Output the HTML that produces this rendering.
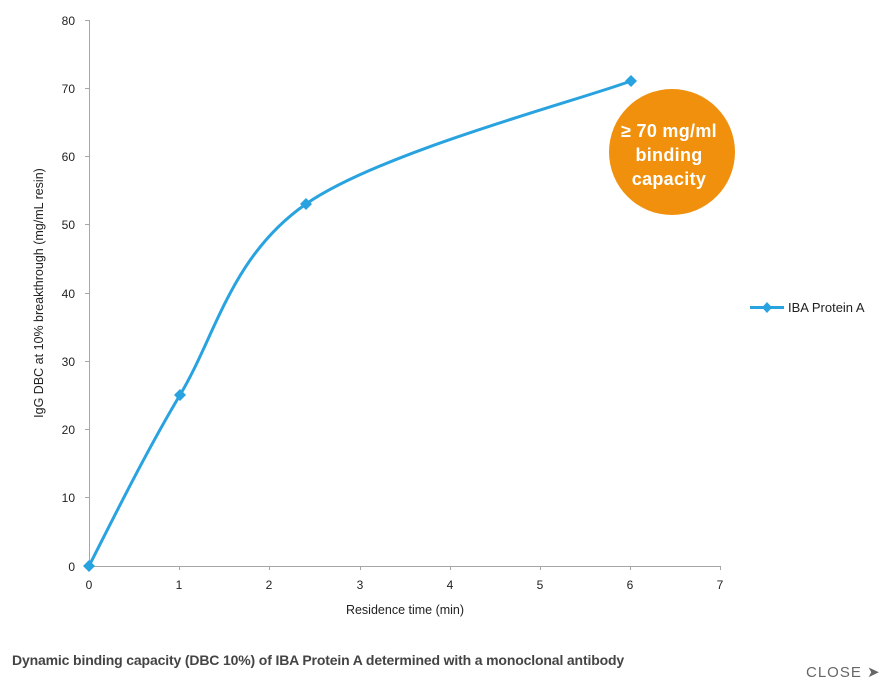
<!DOCTYPE html>
<html><head><meta charset="utf-8"><style>
body{margin:0;background:#fff;width:894px;height:671px;overflow:hidden;position:relative;font-family:"Liberation Sans",sans-serif}
svg{position:absolute;left:0;top:0}
.cap{position:absolute;left:12px;top:652px;font-size:14px;font-weight:bold;color:#444;letter-spacing:-0.15px;white-space:nowrap}
.close{position:absolute;left:806px;top:663px;font-size:15px;color:#666;letter-spacing:1px}
</style></head><body>
<svg width="894" height="671" viewBox="0 0 894 671">
<g stroke="#a6a6a6" stroke-width="1" fill="none">
<line x1="89.5" y1="20" x2="89.5" y2="566"/>
<line x1="89" y1="566.5" x2="721" y2="566.5"/>
<g>
<line x1="85" y1="20.5" x2="89" y2="20.5"/><line x1="85" y1="88.5" x2="89" y2="88.5"/><line x1="85" y1="156.5" x2="89" y2="156.5"/><line x1="85" y1="224.5" x2="89" y2="224.5"/><line x1="85" y1="293.5" x2="89" y2="293.5"/><line x1="85" y1="361.5" x2="89" y2="361.5"/><line x1="85" y1="429.5" x2="89" y2="429.5"/><line x1="85" y1="497.5" x2="89" y2="497.5"/><line x1="85" y1="566.5" x2="89" y2="566.5"/>
<line x1="179.5" y1="566" x2="179.5" y2="570"/><line x1="269.5" y1="566" x2="269.5" y2="570"/><line x1="360.5" y1="566" x2="360.5" y2="570"/><line x1="450.5" y1="566" x2="450.5" y2="570"/><line x1="540.5" y1="566" x2="540.5" y2="570"/><line x1="630.5" y1="566" x2="630.5" y2="570"/><line x1="720.5" y1="566" x2="720.5" y2="570"/>
</g></g>
<g font-size="12" fill="#222" text-anchor="end">
<text x="75" y="25">80</text><text x="75" y="93">70</text><text x="75" y="161">60</text><text x="75" y="229">50</text><text x="75" y="298">40</text><text x="75" y="366">30</text><text x="75" y="434">20</text><text x="75" y="502">10</text><text x="75" y="571">0</text>
</g>
<g font-size="12" fill="#222" text-anchor="middle">
<text x="89" y="589">0</text><text x="179" y="589">1</text><text x="269" y="589">2</text><text x="360" y="589">3</text><text x="450" y="589">4</text><text x="540" y="589">5</text><text x="630" y="589">6</text><text x="720" y="589">7</text>
<text x="405" y="614" font-size="12.5">Residence time (min)</text>
<text transform="translate(43,293) rotate(-90)" font-size="12.5">IgG DBC at 10% breakthrough (mg/mL resin)</text>
</g>
<path d="M89,566 C104,537 144,455 180,395 C216,335 231,256 306,204 C381,152 577,101 631,81" stroke="#29a3e0" stroke-width="3" fill="none"/>
<g fill="#29a3e0">
<path d="M89,560 L95,566 L89,572 L83,566Z"/><path d="M180,389 L186,395 L180,401 L174,395Z"/><path d="M306,198 L312,204 L306,210 L300,204Z"/><path d="M631,75 L637,81 L631,87 L625,81Z"/>
<line x1="750" y1="307.5" x2="784" y2="307.5" stroke="#29a3e0" stroke-width="3"/>
<path d="M767,302 L772,307.5 L767,313 L762,307.5Z"/>
</g>
<text x="788" y="312" font-size="13" fill="#222">IBA Protein A</text>
<circle cx="672" cy="152" r="63" fill="#f0900d"/>
<g fill="#fff" font-size="18" font-weight="bold" text-anchor="middle" letter-spacing="0.3">
<text x="669" y="137">≥ 70 mg/ml</text><text x="669" y="161">binding</text><text x="669" y="185">capacity</text>
</g>
</svg>
<div class="cap">Dynamic binding capacity (DBC 10%) of IBA Protein A determined with a monoclonal antibody</div>
<div class="close">CLOSE ➤</div>
</body></html>
